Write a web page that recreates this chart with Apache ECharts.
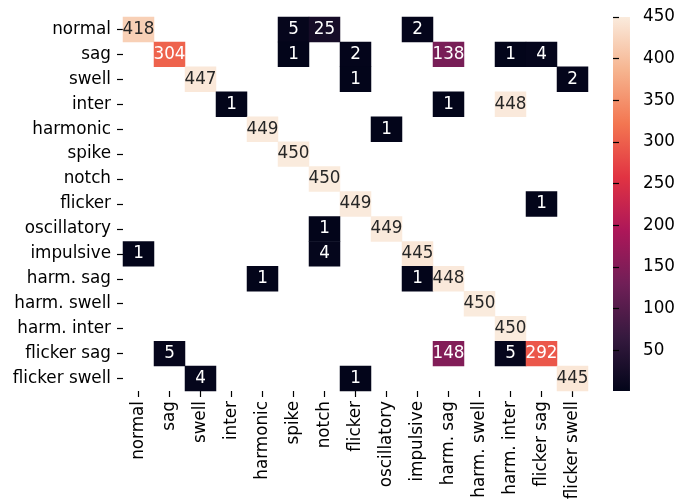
<!DOCTYPE html>
<html><head><meta charset="utf-8">
<script src="https://cdn.jsdelivr.net/npm/echarts@6/dist/echarts.min.js"></script>
<style>html,body{margin:0;padding:0;background:#fff}#c{width:678px;height:504px}</style>
</head><body><div id="c"></div>
<script>
var categories = ['normal','sag','swell','inter','harmonic','spike','notch','flicker','oscillatory','impulsive','harm. sag','harm. swell','harm. inter','flicker sag','flicker swell'];
// rows = true class, columns = predicted class (0 = masked / empty)
var confusion = [
  [418,0,0,0,0,5,25,0,0,2,0,0,0,0,0],
  [0,304,0,0,0,1,0,2,0,0,138,0,1,4,0],
  [0,0,447,0,0,0,0,1,0,0,0,0,0,0,2],
  [0,0,0,1,0,0,0,0,0,0,1,0,448,0,0],
  [0,0,0,0,449,0,0,0,1,0,0,0,0,0,0],
  [0,0,0,0,0,450,0,0,0,0,0,0,0,0,0],
  [0,0,0,0,0,0,450,0,0,0,0,0,0,0,0],
  [0,0,0,0,0,0,0,449,0,0,0,0,0,1,0],
  [0,0,0,0,0,0,1,0,449,0,0,0,0,0,0],
  [1,0,0,0,0,0,4,0,0,445,0,0,0,0,0],
  [0,0,0,0,1,0,0,0,0,1,448,0,0,0,0],
  [0,0,0,0,0,0,0,0,0,0,0,450,0,0,0],
  [0,0,0,0,0,0,0,0,0,0,0,0,450,0,0],
  [0,5,0,0,0,0,0,0,0,0,148,0,5,292,0],
  [0,0,4,0,0,0,0,1,0,0,0,0,0,0,445]
];
var colorbarTicks = [50,100,150,200,250,300,350,400,450];
var rocket = ['#03051a','#35193e','#701f57','#ad1759','#e13342','#f37651','#f6b48f','#faebdd'];
var vmin = 1, vmax = 450;

var font = 'DejaVu Sans';
var fs = 16.8;
var data = [];
confusion.forEach(function(row, r){
  row.forEach(function(v, c){
    if (v > 0) data.push({value:[c, r, v], label:{color: v >= 350 ? '#262626' : '#ffffff'}});
  });
});
var stops = rocket.map(function(col, i){ return {offset: i/(rocket.length-1), color: col}; });

var chart = echarts.init(document.getElementById('c'), null, {renderer:'canvas'});
chart.setOption({
  animation:false,
  backgroundColor:'#ffffff',
  grid:[
    {left:123, top:17, width:465, height:374, containLabel:false},
    {left:613, top:17, width:19, height:374, show:true, borderWidth:0,
     backgroundColor: new echarts.graphic.LinearGradient(0,1,0,0,stops)}
  ],
  xAxis:[
    {type:'category', data:categories, gridIndex:0,
     axisLine:{show:false}, splitLine:{show:false},
     axisTick:{show:true, alignWithLabel:true, length:6, lineStyle:{color:'#000', width:1.2}},
     axisLabel:{rotate:90, interval:0, margin:10, color:'#000', fontFamily:font, fontSize:fs}},
    {type:'value', gridIndex:1, show:false, min:0, max:1}
  ],
  yAxis:[
    {type:'category', data:categories, inverse:true, gridIndex:0,
     axisLine:{show:false}, splitLine:{show:false},
     axisTick:{show:true, alignWithLabel:true, length:6, lineStyle:{color:'#000', width:1.2}},
     axisLabel:{interval:0, margin:12, color:'#000', fontFamily:font, fontSize:fs}},
    {type:'value', gridIndex:1, min:vmin, max:vmax, position:'right',
     axisLine:{show:false}, splitLine:{show:false},
     axisTick:{show:true, length:6, customValues:colorbarTicks, lineStyle:{color:'#000', width:1.2}},
     axisLabel:{customValues:colorbarTicks, margin:13, color:'#000', fontFamily:font, fontSize:fs}}
  ],
  visualMap:{show:false, min:vmin, max:vmax, seriesIndex:0, inRange:{color:rocket}},
  series:[{
    type:'heatmap', xAxisIndex:0, yAxisIndex:0, data:data,
    label:{show:true, fontFamily:font, fontSize:fs, formatter:function(p){return p.value[2];}},
    itemStyle:{borderWidth:0},
    emphasis:{disabled:true}
  }]
});
</script></body></html>
